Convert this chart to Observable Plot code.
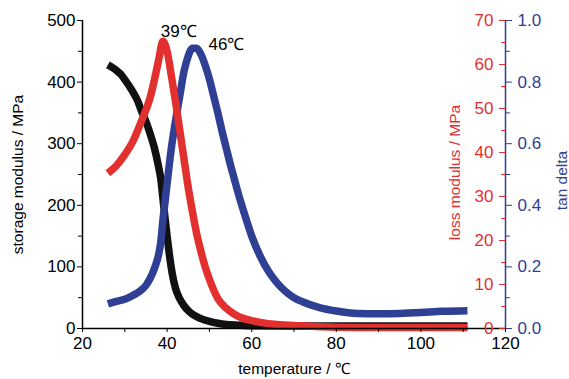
<!DOCTYPE html>
<html><head><meta charset="utf-8">
<script src="https://cdn.jsdelivr.net/npm/d3@7"></script>
<script src="https://cdn.jsdelivr.net/npm/@observablehq/plot@0.6"></script>
<style>body{margin:0;background:#fff}svg{display:block}</style>
</head><body><div id="chart"></div>
<script>
// ---- data ----
const storageT = [26,27,28,29,30,31,32,33,34,35,36,37,38,38.5,39,39.5,40,40.5,41,41.5,42,43,44,45,46,48,50,52,54,56,58,60,70,80,90,100,111];
const storageMPa = [428,424,419,413,404,394,383,370,352,336,316,293,262,243,212,180,150,122,98,79,65,48,37,29,23,16,11.5,8.5,6.5,5.5,5,4.5,4,4,4,4,4];
const lossT = [26,28,30,32,34,36,37,38,39,40,41,42,43,44,45,46,47,48,49,50,52,54,56,58,60,62,66,70,80,90,100,111];
const lossMPa = [35.3,37,39.5,42.7,47.3,52.5,56.5,61,65.3,63,57.5,51.5,45,38.5,32,26.5,21.5,17.5,14,11.2,6.8,4.6,3.2,2.3,1.8,1.4,0.9,0.7,0.3,0.2,0.2,0.2];
const tanT = [26,28,30,32,34,35,36,37,38,38.5,39,39.5,40,41,42,43,44,45,46,47,48,49,50,51,52,53,54,55,56,57,58,60,62,64,66,68,70,72,76,80,85,90,95,100,105,111];
const tanDelta = [0.08,0.088,0.095,0.108,0.126,0.14,0.163,0.195,0.24,0.28,0.35,0.41,0.47,0.585,0.675,0.755,0.835,0.885,0.91,0.91,0.89,0.855,0.81,0.755,0.70,0.64,0.585,0.53,0.48,0.43,0.385,0.30,0.235,0.185,0.148,0.12,0.10,0.087,0.068,0.057,0.049,0.048,0.049,0.052,0.056,0.058];

const xTicks = [20,40,60,80,100,120];
const xMinor = [30,50,70,90,110];
const storageTicks = [0,100,200,300,400,500];
const storageMinor = [50,150,250,350,450];
const lossTicks = [0,10,20,30,40,50,60,70];
const lossMinor = [5,15,25,35,45,55,65];
const tanTicks = [0,0.2,0.4,0.6,0.8,1.0];
const tanMinor = [0.1,0.3,0.5,0.7,0.9];
const peakLoss = {T: 39, v: 65.5, label: "39℃"};
const peakTan = {T: 46, v: 0.91, label: "46℃"};

// ---- layout / style ----
const W = 569, H = 379, mL = 82, mR = 64, mT = 20, mB = 51;
const frameW = W - mL - mR;
const RED = "#e2302e", BLUE = "#2e3f94", BLACK = "#111";
const lossMax = 70, tanMax = 1, yMax = 500;
const lossY = v => v * yMax / lossMax;
const tanY = v => v * yMax / tanMax;

const storageData = storageT.map((t, i) => ({T: t, y: storageMPa[i]}));
const lossData = lossT.map((t, i) => ({T: t, y: lossY(lossMPa[i])}));
const tanData = tanT.map((t, i) => ({T: t, y: tanY(tanDelta[i])}));

const chart = Plot.plot({
  width: W, height: H,
  marginLeft: mL, marginRight: mR, marginTop: mT, marginBottom: mB,
  style: {fontFamily: "'Liberation Sans', Arial, sans-serif", fontSize: "17px", color: "#000", background: "#fff", overflow: "visible"},
  x: {domain: [20, 120], axis: null},
  y: {domain: [0, yMax], axis: null},
  marks: [
    // curves
    Plot.line(storageData, {x: "T", y: "y", stroke: BLACK, strokeWidth: 7.5, curve: "monotone-x", strokeLinecap: "butt"}),
    Plot.line(tanData, {x: "T", y: "y", stroke: BLUE, strokeWidth: 7.5, curve: "monotone-x", strokeLinecap: "butt"}),
    Plot.line(lossData, {x: "T", y: "y", stroke: RED, strokeWidth: 7.5, curve: "monotone-x", strokeLinecap: "butt"}),
    // axis lines
    Plot.ruleY([0], {stroke: "#000", strokeWidth: 1.5}),
    Plot.ruleX([20], {stroke: "#000", strokeWidth: 1.5}),
    Plot.ruleX([120], {stroke: BLUE, strokeWidth: 1.5}),
    // x axis
    Plot.axisX(xTicks, {anchor: "bottom", tickSize: 4, tickPadding: 4, label: null, fontSize: 17, stroke: "#000"}),
    Plot.axisX(xMinor, {anchor: "bottom", tickSize: 4, label: null, fill: "none", stroke: "#000"}),
    // left axis
    Plot.axisY(storageTicks, {anchor: "left", tickSize: 5, tickPadding: 2, label: null, fontSize: 17, stroke: "#000"}),
    Plot.axisY(storageMinor, {anchor: "left", tickSize: 4, label: null, fill: "none", stroke: "#000"}),
    // red loss axis (inside, at right edge)
    Plot.axisY(lossTicks.map(lossY), {anchor: "left", dx: frameW, tickSize: 6, tickPadding: 6, label: null, fontSize: 17, stroke: RED, fill: RED, tickFormat: d => String(Math.round(d * lossMax / yMax))}),
    Plot.axisY(lossMinor.map(lossY), {anchor: "left", dx: frameW, tickSize: 4, label: null, fill: "none", stroke: RED}),
    // blue tan delta axis
    Plot.axisY(tanTicks.map(tanY), {anchor: "right", tickSize: 6, tickPadding: 6, label: null, fontSize: 17, stroke: BLUE, fill: BLUE, tickFormat: d => (d * tanMax / yMax).toFixed(1)}),
    Plot.axisY(tanMinor.map(tanY), {anchor: "right", tickSize: 4, label: null, fill: "none", stroke: BLUE}),
    // titles
    Plot.text(["storage modulus / MPa"], {frameAnchor: "left", textAnchor: "middle", lineAnchor: "middle", rotate: -90, dx: -64, fontSize: 15.5, fill: "#000"}),
    Plot.text(["loss modulus / MPa"], {frameAnchor: "right", textAnchor: "middle", lineAnchor: "middle", rotate: -90, dx: -50, dy: -2, fontSize: 15.5, fill: RED}),
    Plot.text(["tan delta"], {frameAnchor: "right", textAnchor: "middle", lineAnchor: "middle", rotate: -90, dx: 57, dy: 6, fontSize: 15.5, fill: BLUE}),
    Plot.text(["temperature / ℃"], {frameAnchor: "bottom", textAnchor: "middle", lineAnchor: "middle", dy: 41, fontSize: 15.5, fill: "#000"}),
    // peak annotations
    Plot.text([peakLoss], {x: "T", y: d => lossY(d.v), text: "label", textAnchor: "start", dx: -2, dy: -9, fontSize: 17, fill: "#000"}),
    Plot.text([peakTan], {x: "T", y: d => tanY(d.v), text: "label", textAnchor: "start", dx: 16, dy: -4, fontSize: 17, fill: "#000"})
  ]
});
document.getElementById("chart").appendChild(chart);
</script>
</body></html>
